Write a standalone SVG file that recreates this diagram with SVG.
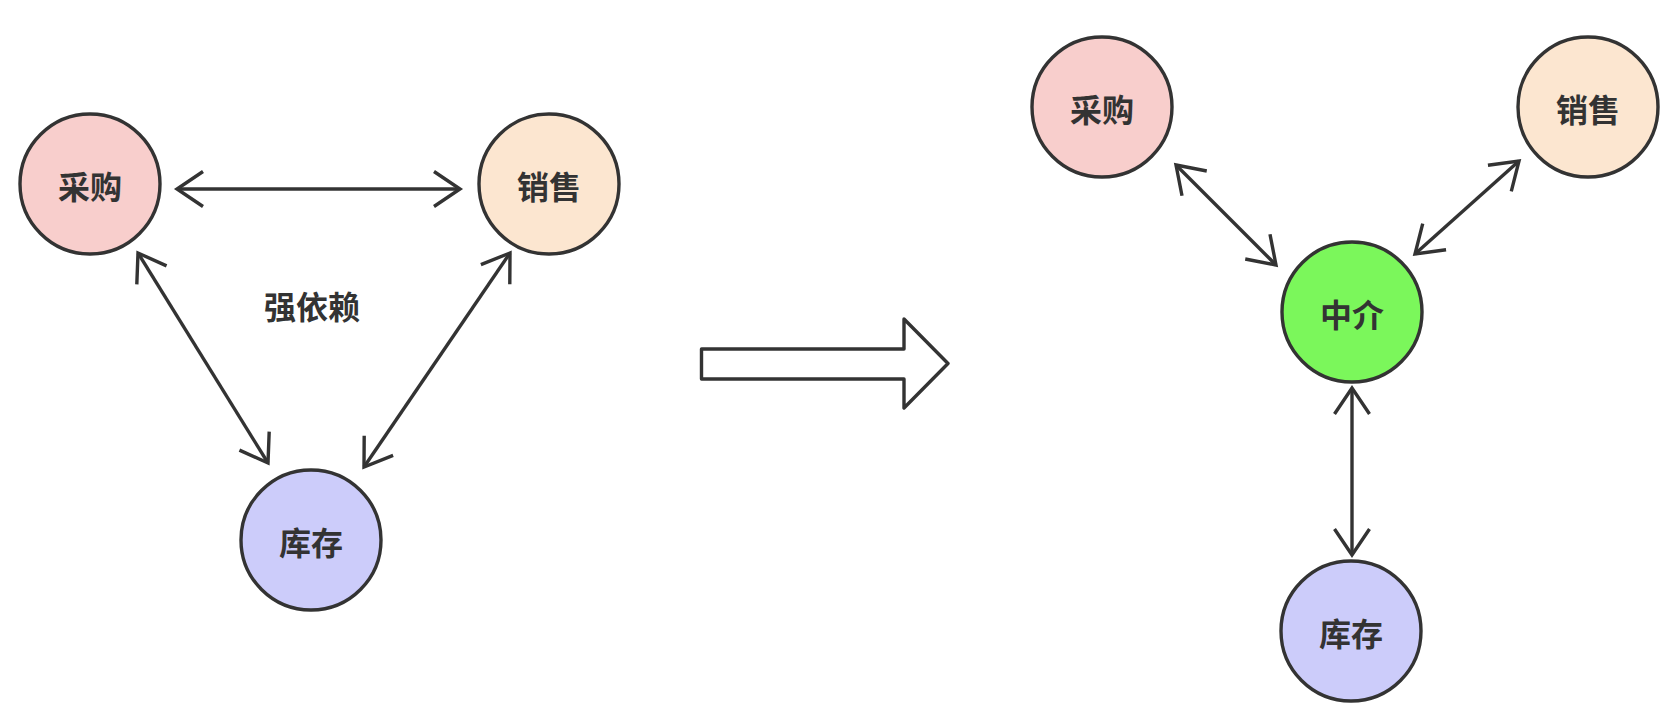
<svg xmlns="http://www.w3.org/2000/svg" width="1670" height="718" viewBox="0 0 1670 718">
<style>
.n{stroke:#333;stroke-width:3.4}
.t{font-family:"Noto Sans CJK SC",sans-serif;font-size:32px;font-weight:bold;fill:#333;text-anchor:middle;dominant-baseline:central}
.e{fill:none;stroke:#333;stroke-width:3.4;marker-start:url(#ah);marker-end:url(#ah)}
</style>
<defs>
<marker id="ah" markerUnits="userSpaceOnUse" orient="auto-start-reverse" refX="0" refY="0" markerWidth="40" markerHeight="40" overflow="visible">
<path d="M-26,-17.5 L0,0 L-26,17.5" fill="none" stroke="#333" stroke-width="3.4"/>
</marker>
</defs>
<g id="L-caigou"><circle class="n" cx="90" cy="184" r="70" fill="#f8cecc"/><text class="t" x="90" y="185">采购</text></g>
<g id="L-xiaoshou"><circle class="n" cx="549" cy="184" r="70" fill="#fce6d0"/><text class="t" x="549" y="185">销售</text></g>
<g id="L-kucun"><circle class="n" cx="311" cy="540" r="70" fill="#ccccfa"/><text class="t" x="311" y="541">库存</text></g>
<text id="label" class="t" x="312" y="305">强依赖</text>
<g id="bigarrow"><path d="M701.5,349 L904,349 L904,319 L948,363.5 L904,408 L904,379 L701.5,379 Z" fill="#fff" stroke="#333" stroke-width="3.4" stroke-linejoin="round"/></g>
<g id="R-caigou"><circle class="n" cx="1102" cy="107" r="70" fill="#f8cecc"/><text class="t" x="1102" y="108">采购</text></g>
<g id="R-xiaoshou"><circle class="n" cx="1588" cy="107" r="70" fill="#fce6d0"/><text class="t" x="1588" y="108">销售</text></g>
<g id="R-zhongjie"><circle class="n" cx="1352" cy="312" r="70" fill="#7bf75b"/><text class="t" x="1352" y="313">中介</text></g>
<g id="R-kucun"><circle class="n" cx="1351" cy="631" r="70" fill="#ccccfa"/><text class="t" x="1351" y="632">库存</text></g>
<g id="connectors">
<line class="e" x1="177" y1="189" x2="460" y2="189"/>
<line class="e" x1="138" y1="253" x2="268" y2="463"/>
<line class="e" x1="510" y1="253" x2="364" y2="467"/>
<line class="e" x1="1176" y1="165" x2="1276" y2="265"/>
<line class="e" x1="1519" y1="161" x2="1415" y2="254"/>
<line class="e" x1="1352" y1="388" x2="1352" y2="555"/>
</g>
</svg>
